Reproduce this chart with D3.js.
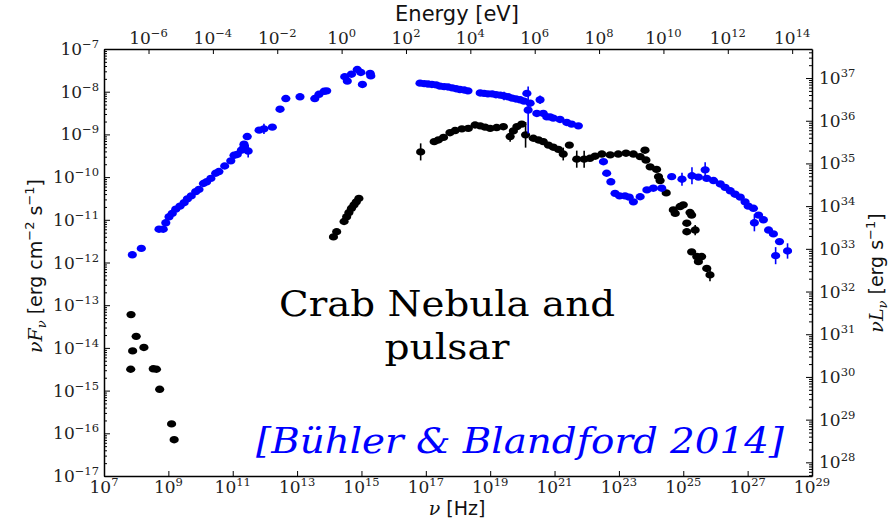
<!DOCTYPE html>
<html>
<head>
<meta charset="utf-8">
<script src="https://cdn.jsdelivr.net/npm/d3@7"></script>
<style>
body { margin: 0; background: #fff; }
</style>
</head>
<body>
<div id="chart"></div>
<script>
// values: [log10 nu (Hz), log10 nuFnu (erg/cm2/s), error (dex)]
const pulsarRadio = [
    [7.84, -13.22], [8.00, -13.73], [7.89, -14.07], [8.24, -13.99], [7.83, -14.50],
    [8.53, -14.49], [8.63, -14.50], [8.73, -14.97], [9.10, -15.78], [9.18, -16.15]
];
const pulsarOptical = [
    [14.13, -11.40], [14.23, -11.28], [14.46, -11.04], [14.54, -10.93], [14.61, -10.83],
    [14.69, -10.73], [14.77, -10.65], [14.84, -10.58], [14.92, -10.50]
];
const pulsarHigh = [
    [16.84, -9.41, 0.2], [17.26, -9.17], [17.39, -9.13], [17.55, -9.07], [17.75, -8.96],
    [17.91, -8.91], [18.12, -8.87], [18.32, -8.86], [18.53, -8.78], [18.69, -8.80],
    [18.84, -8.83], [19.00, -8.86], [19.20, -8.84], [19.41, -8.82], [19.62, -9.05, 0.12],
    [19.72, -8.92], [19.83, -8.82], [19.98, -8.76], [20.10, -9.01, 0.3], [20.34, -9.09],
    [20.50, -9.13], [20.65, -9.17], [20.81, -9.25], [20.96, -9.30], [21.12, -9.35],
    [21.27, -9.46, 0.15], [21.46, -9.25], [21.69, -9.58, 0.2], [21.92, -9.58, 0.2],
    [22.10, -9.56], [22.26, -9.51], [22.47, -9.46], [22.73, -9.48], [22.98, -9.46],
    [23.22, -9.44], [23.45, -9.46], [23.66, -9.52], [23.81, -9.37], [23.84, -9.60],
    [23.97, -9.76], [24.17, -9.82], [24.23, -9.99], [24.28, -10.08], [24.47, -10.37],
    [24.69, -10.77], [24.75, -10.85], [24.90, -10.69], [25.00, -10.65], [25.21, -10.83],
    [25.26, -10.89], [25.11, -11.08], [25.11, -11.28], [25.37, -11.24, 0.12],
    [25.26, -11.75], [25.42, -11.86], [25.57, -11.86], [25.47, -11.98], [25.73, -12.14],
    [25.83, -12.29, 0.15]
];
const nebulaSync = [
    [7.88, -11.82], [8.16, -11.67], [8.71, -11.22], [8.84, -11.22], [8.92, -11.07],
    [9.02, -10.93], [9.12, -10.85], [9.23, -10.75], [9.36, -10.68], [9.49, -10.60],
    [9.59, -10.51], [9.71, -10.44], [9.85, -10.34], [9.95, -10.29], [10.09, -10.15],
    [10.19, -10.11], [10.32, -10.03], [10.47, -9.91], [10.57, -9.87], [10.75, -9.74],
    [10.94, -9.62], [11.04, -9.49], [11.14, -9.47], [11.27, -9.37], [11.35, -9.23],
    [11.45, -9.05], [11.48, -9.39, 0.15], [11.35, -9.29], [11.82, -8.90],
    [11.97, -8.87, 0.12], [12.23, -8.83], [12.47, -8.41], [12.65, -8.16], [13.09, -8.12],
    [13.55, -8.16], [13.68, -8.06], [13.84, -7.99], [13.92, -7.98], [14.48, -7.65],
    [14.56, -7.75], [14.69, -7.59], [14.87, -7.48], [14.98, -7.55], [15.03, -7.83],
    [15.27, -7.57], [15.29, -7.63]
];
const nebulaXray = [
    [16.82, -7.80], [16.95, -7.81], [17.07, -7.82], [17.19, -7.83], [17.32, -7.84],
    [17.44, -7.87], [17.57, -7.88], [17.69, -7.89], [17.82, -7.91], [17.94, -7.93],
    [18.06, -7.95], [18.19, -7.96], [18.31, -7.98], [18.69, -8.03], [18.81, -8.04],
    [18.93, -8.05], [19.06, -8.05], [19.18, -8.07], [19.31, -8.08], [19.43, -8.10, 0.1],
    [19.56, -8.12], [19.68, -8.15], [19.80, -8.17], [19.93, -8.19], [20.05, -8.22],
    [20.14, -8.04], [20.24, -8.27], [20.18, -8.43, 0.55], [20.55, -8.19, 0.1], [20.45, -8.51],
    [20.65, -8.51], [20.76, -8.59], [20.86, -8.59], [20.96, -8.62], [21.17, -8.65],
    [21.38, -8.72], [21.53, -8.76], [21.74, -8.80]
];
const nebulaGamma = [
    [22.52, -9.64], [22.62, -9.91], [22.75, -10.11], [22.88, -10.38], [23.02, -10.44],
    [23.19, -10.44], [23.32, -10.47], [23.45, -10.58], [23.66, -10.46], [23.87, -10.30],
    [24.07, -10.26], [24.33, -10.26], [24.64, -9.99], [24.96, -10.05, 0.15],
    [25.27, -9.97, 0.2], [25.47, -10.00], [25.68, -9.83, 0.18], [25.73, -10.03],
    [25.94, -10.08], [26.15, -10.16], [26.30, -10.24], [26.46, -10.32], [26.61, -10.40],
    [26.77, -10.47], [26.92, -10.58], [27.02, -10.68], [27.18, -10.73],
    [27.21, -11.07, 0.2], [27.34, -10.89], [27.49, -11.00], [27.65, -11.24], [27.80, -11.33],
    [27.99, -11.51], [27.87, -11.84, 0.2], [28.24, -11.73, 0.18]
];

// tick exponents
const nuTicks = [7, 9, 11, 13, 15, 17, 19, 21, 23, 25, 27, 29];
const energyTicks = [-6, -4, -2, 0, 2, 4, 6, 8, 10, 12, 14];
const fluxTicks = [-17, -16, -15, -14, -13, -12, -11, -10, -9, -8, -7];
const lumTicks = [28, 29, 30, 31, 32, 33, 34, 35, 36, 37];

var width = 890;
var height = 522;
var p_left = 104, p_right = 812, p_top = 49, p_bottom = 476;
var planck = 4.1357e-15;          // eV s
var lum_factor = 4.786e44;        // 4 pi d^2, d = 2 kpc
var tick_font = "DejaVu Serif";
var blue = "#0000ff";

var x = d3.scaleLog().domain([1e7, 1e29]).range([p_left, p_right]);
var y = d3.scaleLog().domain([1e-17, 1e-7]).range([p_bottom, p_top]);
var xe = d3.scaleLog().domain([1e7 * planck, 1e29 * planck]).range([p_left, p_right]);
var yl = d3.scaleLog().domain([1e-17 * lum_factor, 1e-7 * lum_factor]).range([p_bottom, p_top]);

var svg = d3.select("#chart").append("svg")
    .attr("width", width)
    .attr("height", height)
    .style("display", "block");

function minors(scale, lo, hi) {
    var out = [];
    var d = scale.domain();
    for (var e = lo; e <= hi; e++) {
        for (var m = 2; m < 10; m++) {
            var v = m * Math.pow(10, e);
            if (v > d[0] && v < d[1]) out.push(v);
        }
    }
    return out;
}

function pow10(text, e) {
    text.append("tspan").text("10");
    text.append("tspan")
        .attr("dy", -7)
        .attr("font-size", 11.5)
        .text(e < 0 ? "\u2212" + (-e) : e);
}

// axes with inward ticks
svg.append("g").attr("transform", "translate(0," + p_bottom + ")")
    .call(d3.axisBottom(x).tickValues(nuTicks.map(e => Math.pow(10, e)))
        .tickSizeInner(-5).tickSizeOuter(0).tickFormat(() => ""));
svg.append("g").attr("transform", "translate(0," + p_top + ")")
    .call(d3.axisTop(xe).tickValues(energyTicks.map(e => Math.pow(10, e)))
        .tickSizeInner(-5).tickSizeOuter(0).tickFormat(() => ""));
svg.append("g").attr("transform", "translate(" + p_left + ",0)")
    .call(d3.axisLeft(y).tickValues(fluxTicks.map(e => Math.pow(10, e)))
        .tickSizeInner(-6).tickSizeOuter(0).tickFormat(() => ""));
svg.append("g").attr("transform", "translate(" + p_left + ",0)")
    .call(d3.axisLeft(y).tickValues(minors(y, -17, -8))
        .tickSizeInner(-3).tickSizeOuter(0).tickFormat(() => ""))
    .select(".domain").remove();
svg.append("g").attr("transform", "translate(" + p_right + ",0)")
    .call(d3.axisRight(yl).tickValues(lumTicks.map(e => Math.pow(10, e)))
        .tickSizeInner(-6).tickSizeOuter(0).tickFormat(() => ""));
svg.append("g").attr("transform", "translate(" + p_right + ",0)")
    .call(d3.axisRight(yl).tickValues(minors(yl, 27, 37))
        .tickSizeInner(-3).tickSizeOuter(0).tickFormat(() => ""))
    .select(".domain").remove();

svg.selectAll(".domain").attr("stroke", "#000").attr("stroke-width", 1.5);
svg.selectAll(".tick line").attr("stroke", "#000").attr("stroke-width", 1);

// tick labels
svg.append("g").selectAll("text").data(nuTicks).enter().append("text")
    .attr("x", e => x(Math.pow(10, e)))
    .attr("y", p_bottom + 17)
    .attr("text-anchor", "middle")
    .attr("font-family", tick_font).attr("font-size", 17).attr("fill", "#222")
    .each(function (e) { pow10(d3.select(this), e); });

svg.append("g").selectAll("text").data(energyTicks).enter().append("text")
    .attr("x", e => xe(Math.pow(10, e)))
    .attr("y", p_top - 5)
    .attr("text-anchor", "middle")
    .attr("font-family", tick_font).attr("font-size", 17).attr("fill", "#222")
    .each(function (e) { pow10(d3.select(this), e); });

svg.append("g").selectAll("text").data(fluxTicks).enter().append("text")
    .attr("x", p_left - 5)
    .attr("y", e => y(Math.pow(10, e)) + 6)
    .attr("text-anchor", "end")
    .attr("font-family", tick_font).attr("font-size", 17).attr("fill", "#222")
    .each(function (e) { pow10(d3.select(this), e); });

svg.append("g").selectAll("text").data(lumTicks).enter().append("text")
    .attr("x", p_right + 7)
    .attr("y", e => yl(Math.pow(10, e)) + 6)
    .attr("text-anchor", "start")
    .attr("font-family", tick_font).attr("font-size", 17).attr("fill", "#222")
    .each(function (e) { pow10(d3.select(this), e); });

// axis titles
svg.append("text")
    .attr("x", 457).attr("y", 21)
    .attr("text-anchor", "middle")
    .attr("font-family", "DejaVu Sans").attr("font-size", 21).attr("fill", "#111")
    .text("Energy [eV]");

var xl = svg.append("text")
    .attr("x", 457).attr("y", 515)
    .attr("text-anchor", "middle")
    .attr("font-family", "DejaVu Sans").attr("font-size", 19).attr("fill", "#111");
xl.append("tspan").attr("font-family", "DejaVu Serif").attr("font-style", "italic").text("\u03bd ");
xl.append("tspan").text("[Hz]");

var yt = svg.append("text")
    .attr("transform", "translate(42,266) rotate(-90)")
    .attr("text-anchor", "middle")
    .attr("font-family", "DejaVu Sans").attr("font-size", 19).attr("fill", "#111");
yt.append("tspan").attr("font-family", "DejaVu Serif").attr("font-style", "italic").text("\u03bdF");
yt.append("tspan").attr("font-family", "DejaVu Serif").attr("font-style", "italic")
    .attr("font-size", 13).attr("dy", 4).text("\u03bd");
yt.append("tspan").attr("dy", -4).text(" [erg cm");
yt.append("tspan").attr("font-size", 13).attr("dy", -8).text("\u22122");
yt.append("tspan").attr("dy", 8).text(" s");
yt.append("tspan").attr("font-size", 13).attr("dy", -8).text("\u22121");
yt.append("tspan").attr("dy", 8).text("]");

var yr = svg.append("text")
    .attr("transform", "translate(883,273) rotate(-90)")
    .attr("text-anchor", "middle")
    .attr("font-family", "DejaVu Sans").attr("font-size", 19).attr("fill", "#111");
yr.append("tspan").attr("font-family", "DejaVu Serif").attr("font-style", "italic").text("\u03bdL");
yr.append("tspan").attr("font-family", "DejaVu Serif").attr("font-style", "italic")
    .attr("font-size", 13).attr("dy", 4).text("\u03bd");
yr.append("tspan").attr("dy", -4).text(" [erg s");
yr.append("tspan").attr("font-size", 13).attr("dy", -8).text("\u22121");
yr.append("tspan").attr("dy", 8).text("]");

// data points
var plot = svg.append("g");

function draw_series(points, color) {
    var g = plot.append("g");
    g.selectAll("line").data(points.filter(p => p[2])).enter().append("line")
        .attr("x1", p => x(Math.pow(10, p[0])))
        .attr("x2", p => x(Math.pow(10, p[0])))
        .attr("y1", p => y(Math.pow(10, p[1] + p[2])))
        .attr("y2", p => y(Math.pow(10, p[1] - p[2])))
        .attr("stroke", color)
        .attr("stroke-width", 1.6);
    g.selectAll("ellipse").data(points).enter().append("ellipse")
        .attr("cx", p => x(Math.pow(10, p[0])))
        .attr("cy", p => y(Math.pow(10, p[1])))
        .attr("rx", 4.6)
        .attr("ry", 3.7)
        .attr("fill", color);
}

draw_series(pulsarRadio, "#000");
draw_series(pulsarOptical, "#000");
draw_series(pulsarHigh, "#000");
draw_series(nebulaSync, blue);
draw_series(nebulaXray, blue);
draw_series(nebulaGamma, blue);

// annotations
svg.append("text")
    .attr("x", 447).attr("y", 316)
    .attr("text-anchor", "middle")
    .attr("font-family", "DejaVu Serif").attr("font-size", 36)
    .attr("textLength", 336).attr("lengthAdjust", "spacingAndGlyphs")
    .attr("fill", "#000")
    .text("Crab Nebula and");
svg.append("text")
    .attr("x", 447).attr("y", 359)
    .attr("text-anchor", "middle")
    .attr("font-family", "DejaVu Serif").attr("font-size", 36)
    .attr("textLength", 125).attr("lengthAdjust", "spacingAndGlyphs")
    .attr("fill", "#000")
    .text("pulsar");
svg.append("text")
    .attr("x", 520).attr("y", 453)
    .attr("text-anchor", "middle")
    .attr("font-family", "DejaVu Serif").attr("font-style", "italic").attr("font-size", 36)
    .attr("textLength", 528).attr("lengthAdjust", "spacingAndGlyphs")
    .attr("fill", blue)
    .text("[B\u00fchler & Blandford 2014]");
</script>
</body>
</html>
